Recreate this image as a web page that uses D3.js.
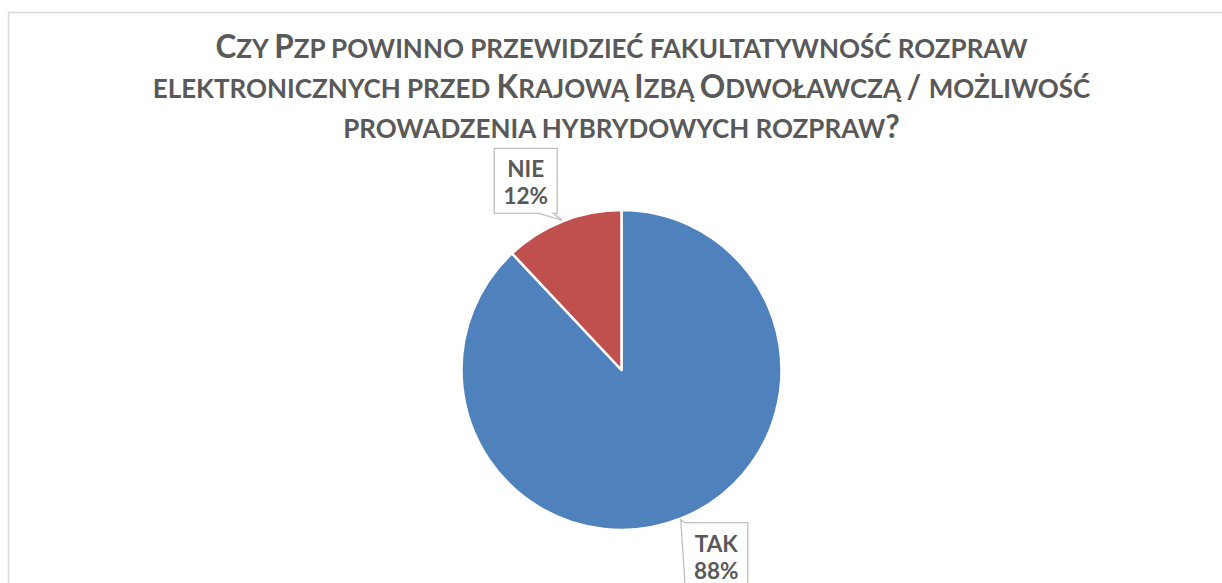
<!DOCTYPE html>
<html>
<head>
<meta charset="utf-8">
<script src="https://cdn.jsdelivr.net/npm/d3@7"></script>
<style>
  body { margin: 0; background: #fff; }
  svg { display: block; font-family: Lato, sans-serif; }
</style>
</head>
<body>
<div id="chart"></div>
<script>
const titleLines = [
  "Czy Pzp powinno przewidzieć fakultatywność rozpraw",
  "elektronicznych przed Krajową Izbą Odwoławczą / możliwość",
  "prowadzenia hybrydowych rozpraw?"
];
const categories = ["TAK", "NIE"];
const values = [88, 12];
const colors = ["#4F81BD", "#C0504D"];

const width = 1222;
const height = 583;
const cx = 621.5, cy = 370, radius = 160;

const svg = d3.select("#chart")
  .append("svg")
    .attr("width", width)
    .attr("height", height);

// chart area border
svg.append("rect")
  .attr("x", 8.5).attr("y", 12.5)
  .attr("width", 1230).attr("height", 620)
  .attr("fill", "#fff")
  .attr("stroke", "#D9D9D9")
  .attr("stroke-width", 1.5);

// title with synthetic small caps
const capSize = 31.5, smallSize = 26;
const title = svg.append("text")
  .attr("text-anchor", "middle")
  .attr("fill", "#595959")
  .attr("font-weight", "bold");

titleLines.forEach((line, i) => {
  const row = title.append("tspan")
    .attr("x", cx)
    .attr("y", 58 + i * 40);
  let runs = [];
  for (const ch of line) {
    const big = ch !== ch.toLowerCase() || !/\p{L}/u.test(ch);
    const size = ch === " " ? (runs.length ? runs[runs.length - 1].size : capSize) : (big ? capSize : smallSize);
    if (runs.length && runs[runs.length - 1].size === size) runs[runs.length - 1].text += ch.toUpperCase();
    else runs.push({ size, text: ch.toUpperCase() });
  }
  runs.forEach(r => {
    row.append("tspan").attr("font-size", r.size).text(r.text);
  });
});

// pie
const pie = d3.pie().sort(null).value(d => d)
  .startAngle(0).endAngle(2 * Math.PI);
const arcs = pie(values);
const arc = d3.arc().innerRadius(0).outerRadius(radius);

const g = svg.append("g").attr("transform", `translate(${cx},${cy})`);
g.selectAll("path")
  .data(arcs)
  .join("path")
    .attr("d", arc)
    .attr("fill", (d, i) => colors[i])
    .attr("stroke", "#fff")
    .attr("stroke-width", 2.5)
    .attr("stroke-linejoin", "round");

// data label callouts, anchored at the slice's mid angle on the rim
function tipPoint(d) {
  const a = (d.startAngle + d.endAngle) / 2;
  return [cx + Math.sin(a) * (radius + 1), cy - Math.cos(a) * (radius + 1)];
}

const labelFont = 22.5;
const labels = svg.append("g");

arcs.forEach((d, i) => {
  const [tx, ty] = tipPoint(d);
  let path, textX, textY;
  if (ty < cy) {
    const x0 = tx - 68, x1 = tx - 5, y0 = ty - 72, y1 = ty - 7;
    path = `M${x0},${y0}H${x1}V${y1}H${x1 - 4}L${tx},${ty}L${x1 - 18},${y1}H${x0}Z`;
    textX = (x0 + x1) / 2; textY = y0 + 29;
  } else {
    const x0 = tx + 4, x1 = tx + 67, y0 = ty + 3, y1 = ty + 90;
    path = `M${x0},${y0}H${x1}V${y1}H${x0}V${y0 + 58}L${tx},${ty}L${x0},${y0}Z`;
    textX = (x0 + x1) / 2; textY = y0 + 29;
  }
  labels.append("path")
    .attr("d", path)
    .attr("fill", "#fff")
    .attr("stroke", "#BFBFBF")
    .attr("stroke-width", 1.3);
  const t = labels.append("text")
    .attr("text-anchor", "middle")
    .attr("fill", "#595959")
    .attr("font-weight", "bold")
    .attr("font-size", labelFont);
  t.append("tspan").attr("x", textX).attr("y", textY).text(categories[i]);
  t.append("tspan").attr("x", textX).attr("y", textY + 27).text(values[i] + "%");
});
</script>
</body>
</html>
